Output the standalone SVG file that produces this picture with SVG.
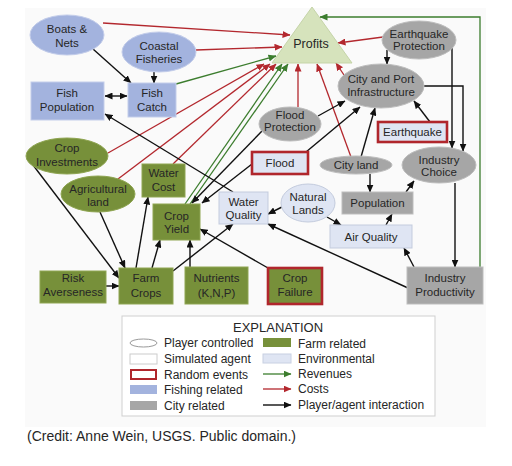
<svg xmlns="http://www.w3.org/2000/svg" width="512" height="466" viewBox="0 0 512 466">
<style>
text{font-family:"Liberation Sans",Arial,sans-serif;fill:#262626;text-anchor:middle}
.n{font-size:11.5px}
.lg{font-size:12px;text-anchor:start}
.k{fill:none;stroke:#111;stroke-width:1.4;marker-end:url(#ak)}
.r{fill:none;stroke:#b3282e;stroke-width:1.3;marker-end:url(#ar)}
.g{fill:none;stroke:#3c7d2e;stroke-width:1.3;marker-end:url(#ag)}
.fish{fill:#a3b3de;stroke:#c3cdea;stroke-width:1}
.farm{fill:#77903a;stroke:#8fa552;stroke-width:1}
.city{fill:#a6a6a6;stroke:#bdbdbd;stroke-width:1}
.env{fill:#dfe5f3;stroke:#c3cbdd;stroke-width:1}
.rand{stroke:#b0262c;stroke-width:2.6}
</style>
<defs>
<marker id="ak" markerUnits="userSpaceOnUse" markerWidth="8" markerHeight="7" refX="7.5" refY="3.5" orient="auto-start-reverse"><path d="M0,0 L8,3.5 L0,7 z" fill="#111"/></marker>
<marker id="ar" markerUnits="userSpaceOnUse" markerWidth="8" markerHeight="7" refX="7.5" refY="3.5" orient="auto"><path d="M0,0 L8,3.5 L0,7 z" fill="#b3282e"/></marker>
<marker id="ag" markerUnits="userSpaceOnUse" markerWidth="8" markerHeight="7" refX="7.5" refY="3.5" orient="auto"><path d="M0,0 L8,3.5 L0,7 z" fill="#3c7d2e"/></marker>
</defs>
<rect x="0" y="0" width="512" height="466" fill="#fff"/>
<rect x="25" y="8" width="461" height="419" fill="#fafafa"/>

<g id="connectors">
<!-- costs -->
<path class="r" d="M103,23 L290,35"/>
<path class="r" d="M196,50 L282,47"/>
<path class="r" d="M108,153 L264,64"/>
<path class="r" d="M118,179 L270,64"/>
<path class="r" d="M173,164 L276,64"/>
<path class="r" d="M298,107 L298,64"/>
<path class="r" d="M351,157 L317,64"/>
<path class="r" d="M344,75 L336,63"/>
<path class="r" d="M383,37 L338,43"/>
<!-- revenues -->
<path class="g" d="M176,84 L276,56"/>
<path class="g" d="M185,204 L282,64"/>
<path class="g" d="M190,204 L288,64"/>
<path class="g" d="M480,267 L480,17 L320,17"/>
<!-- interactions -->
<path class="k" d="M93,49 L131,83"/>
<path class="k" d="M154,72 L154,83"/>
<path class="k" d="M105,96 L127,96" marker-start="url(#ak)"/>
<path class="k" d="M233,192 L105,114"/>
<path class="k" d="M33,165 L119,278"/>
<path class="k" d="M100,212 L125,268"/>
<path class="k" d="M106,286 L119,286"/>
<path class="k" d="M136,268 L148,197"/>
<path class="k" d="M152,268 L160,240"/>
<path class="k" d="M173,271 L233,224"/>
<path class="k" d="M190,267 L190,240"/>
<path class="k" d="M268,268 L200,229"/>
<path class="k" d="M262,131 L192,203"/>
<path class="k" d="M252,164 L202,203"/>
<path class="k" d="M318,116 L345,101"/>
<path class="k" d="M306,152 L360,107"/>
<path class="k" d="M361,157 L375,108"/>
<path class="k" d="M430,122 L414,101"/>
<path class="k" d="M387,50 L387,64"/>
<path class="k" d="M452,48 L452,148"/>
<path class="k" d="M424,86 L463,86 L463,151"/>
<path class="k" d="M370,174 L370,192"/>
<path class="k" d="M406,192 L414,181"/>
<path class="k" d="M455,183 L455,267"/>
<path class="k" d="M282,207 L268,214"/>
<path class="k" d="M327,217 L341,225"/>
<path class="k" d="M386,225 L392,214"/>
<path class="k" d="M414,267 L404,248"/>
<path class="k" d="M408,288 L268,224"/>
</g>

<g id="profits"><polygon points="312,7 272,63 352,63" fill="#d6e3bc" stroke="#c5d4a8"/><text x="311" y="48" style="font-size:12.5px">Profits</text></g>
<g id="boats-nets"><ellipse cx="67" cy="35" rx="37" ry="20" class="fish"/><text class="n" x="67" y="33">Boats &amp;</text><text class="n" x="67" y="47">Nets</text></g>
<g id="coastal-fisheries"><ellipse cx="159" cy="52" rx="37" ry="20" class="fish"/><text class="n" x="159" y="50">Coastal</text><text class="n" x="159" y="63">Fisheries</text></g>
<g id="fish-population"><rect x="31" y="82" width="73" height="38" class="fish"/><text class="n" x="67" y="97">Fish</text><text class="n" x="67" y="111">Population</text></g>
<g id="fish-catch"><rect x="128" y="83" width="48" height="34" class="fish"/><text class="n" x="152" y="97">Fish</text><text class="n" x="152" y="111">Catch</text></g>

<g id="crop-investments"><ellipse cx="67" cy="156" rx="41" ry="18" class="farm"/><text class="n" x="67" y="152">Crop</text><text class="n" x="67" y="166">Investments</text></g>
<g id="agricultural-land"><ellipse cx="98" cy="194" rx="37" ry="18" class="farm"/><text class="n" x="98" y="193">Agricultural</text><text class="n" x="98" y="206">land</text></g>
<g id="water-cost"><rect x="142" y="164" width="43" height="33" class="farm"/><text class="n" x="163.5" y="177">Water</text><text class="n" x="163.5" y="191">Cost</text></g>
<g id="crop-yield"><rect x="153" y="204" width="47" height="36" class="farm"/><text class="n" x="176.5" y="220">Crop</text><text class="n" x="176.5" y="233">Yield</text></g>
<g id="risk-averseness"><rect x="40" y="271" width="66" height="32" class="farm"/><text class="n" x="73" y="282">Risk</text><text class="n" x="73" y="296">Averseness</text></g>
<g id="farm-crops"><rect x="119" y="268" width="54" height="36" class="farm"/><text class="n" x="146" y="282">Farm</text><text class="n" x="146" y="297">Crops</text></g>
<g id="nutrients"><rect x="185" y="267" width="63" height="37" class="farm"/><text class="n" x="216.5" y="282">Nutrients</text><text class="n" x="216.5" y="297">(K,N,P)</text></g>
<g id="crop-failure"><rect x="268" y="268" width="54" height="36" class="farm rand"/><text class="n" x="295" y="282">Crop</text><text class="n" x="295" y="296">Failure</text></g>

<g id="water-quality"><rect x="219" y="192" width="49" height="32" class="env"/><text class="n" x="243.5" y="206">Water</text><text class="n" x="243.5" y="219">Quality</text></g>
<g id="natural-lands"><ellipse cx="308" cy="203" rx="27" ry="19" class="env"/><text class="n" x="308" y="201">Natural</text><text class="n" x="308" y="214">Lands</text></g>
<g id="air-quality"><rect x="330" y="225" width="82" height="23" class="env"/><text class="n" x="371" y="241">Air Quality</text></g>
<g id="flood"><rect x="252" y="152" width="56" height="22" class="env rand"/><text class="n" x="280" y="167">Flood</text></g>
<g id="earthquake"><rect x="378" y="122" width="69" height="20" class="env rand"/><text class="n" x="412.5" y="136">Earthquake</text></g>

<g id="flood-protection"><ellipse cx="290" cy="124" rx="31" ry="17" class="city"/><text class="n" x="290" y="119">Flood</text><text class="n" x="290" y="131">Protection</text></g>
<g id="city-port"><ellipse cx="381" cy="86" rx="43" ry="22" class="city"/><text class="n" x="381" y="83">City and Port</text><text class="n" x="381" y="96">Infrastructure</text></g>
<g id="earthquake-protection"><ellipse cx="419" cy="40" rx="37" ry="19" class="city"/><text class="n" x="419" y="38">Earthquake</text><text class="n" x="419" y="50">Protection</text></g>
<g id="city-land"><ellipse cx="356" cy="165" rx="36" ry="9" class="city"/><text class="n" x="356" y="169">City land</text></g>
<g id="industry-choice"><ellipse cx="439" cy="165" rx="37" ry="18" class="city"/><text class="n" x="439" y="164">Industry</text><text class="n" x="439" y="176">Choice</text></g>
<g id="population"><rect x="342" y="192" width="71" height="22" class="city"/><text class="n" x="377.5" y="207">Population</text></g>
<g id="industry-productivity"><rect x="407" y="267" width="76" height="37" class="city"/><text class="n" x="445" y="282">Industry</text><text class="n" x="445" y="296">Productivity</text></g>

<g id="legend">
<rect x="122" y="316" width="313" height="100" fill="#fff" stroke="#cfcfcf"/>
<text x="278" y="332" style="font-size:13px">EXPLANATION</text>
<ellipse cx="143.5" cy="343" rx="13.5" ry="4" fill="#fff" stroke="#999"/>
<rect x="130" y="354" width="27" height="10" fill="#fff" stroke="#ccc"/>
<rect x="131" y="370" width="25" height="9" fill="#fff" stroke="#b0262c" stroke-width="2"/>
<rect x="130" y="385" width="27" height="9" fill="#a3b3de"/>
<rect x="130" y="401" width="27" height="9" fill="#a6a6a6"/>
<text class="lg" x="164" y="347">Player controlled</text>
<text class="lg" x="164" y="363">Simulated agent</text>
<text class="lg" x="164" y="379">Random events</text>
<text class="lg" x="164" y="394">Fishing related</text>
<text class="lg" x="164" y="410">City related</text>
<rect x="263" y="338" width="28" height="9" fill="#77903a"/>
<rect x="263" y="354" width="28" height="9" fill="#dfe5f3" stroke="#c8d0e2"/>
<path class="g" d="M263,374 L291,374"/>
<path class="r" d="M263,389 L291,389"/>
<path class="k" d="M263,405 L291,405"/>
<text class="lg" x="298" y="348">Farm related</text>
<text class="lg" x="298" y="363">Environmental</text>
<text class="lg" x="298" y="378">Revenues</text>
<text class="lg" x="298" y="393">Costs</text>
<text class="lg" x="298" y="409">Player/agent interaction</text>
</g>
<text x="27" y="441" style="font-size:14px;text-anchor:start">(Credit: Anne Wein, USGS. Public domain.)</text>
</svg>
